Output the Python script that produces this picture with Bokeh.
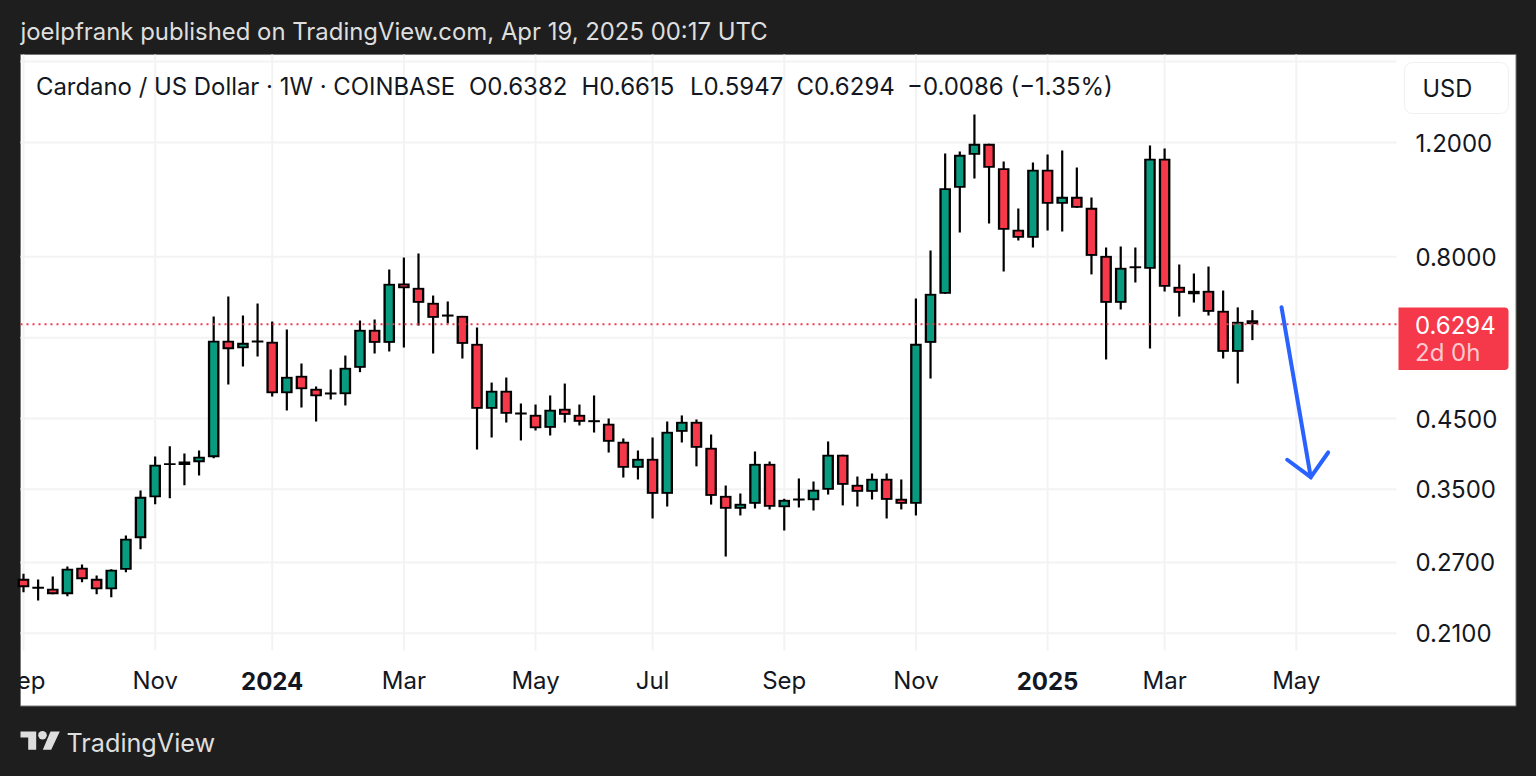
import math
import numpy as np
from bokeh.embed import file_html
from bokeh.resources import INLINE
from bokeh.plotting import figure
from bokeh.models import (BoxAnnotation, FixedTicker, Label, LinearAxis, LogAxis, PolyAnnotation, Range1d)

OPEN = [.2547,.2476,.2459,.2412,.2649,.2547,.2455,.2631,.2943,.3403,.3815,.3815,.3855,.3924,.5933,.5779,.5897,.5912,.4925,.5239,.5003,.4903,.4908,.5390,.6169,.5890,.7272,.7161,.6790,.6466,.6482,.5869,.4660,.4968,.4566,.4561,.4355,.4660,.4561,.4443,.4419,.4145,.3779,.3901,.3445,.4294,.4449,.4057,.3420,.3267,.3325,.3832,.3285,.3364,.3368,.3495,.3958,.3557,.3470,.3634,.3385,.3325,.5890,.7010,1.0216,1.1486,1.1944,1.0953,.8801,.8553,1.0891,.9655,.9894,.9515,.8022,.6790,.7678,.7662,1.1325,.7187,.7085,.7085,.6600,.5705,.6382]
HIGH = [.2593,.2541,.2568,.2661,.2680,.2578,.2635,.2970,.3486,.3933,.4078,.3975,.4018,.6466,.6943,.6490,.6773,.6353,.6176,.5473,.5044,.5358,.5630,.6376,.6399,.7643,.7975,.8092,.6968,.6822,.6482,.6220,.5115,.5207,.4748,.4731,.4886,.5097,.4731,.4886,.4502,.4194,.4018,.4208,.4454,.4551,.4486,.4253,.3548,.3449,.4004,.3864,.3385,.3638,.3599,.4149,.3958,.3663,.3703,.3703,.3625,.6895,.8176,1.1542,1.1623,1.3254,1.1944,1.1217,.9493,1.1177,1.1498,1.1664,1.0980,.9870,.8263,.8292,.8263,1.1871,1.1747,.7780,.7535,.7724,.7093,.6680,.6615]
LOW = [.2429,.2358,.2412,.2394,.2517,.2412,.2386,.2608,.2830,.3320,.3391,.3552,.3677,.3910,.5079,.5414,.5611,.4867,.4632,.4681,.4454,.4816,.4715,.5307,.5671,.5712,.5793,.6263,.5671,.6310,.5571,.4032,.4208,.4438,.4164,.4314,.4238,.4438,.4392,.4283,.3989,.3650,.3625,.3156,.3293,.4134,.3798,.3316,.2757,.3190,.3270,.3259,.3024,.3282,.3247,.3436,.3306,.3293,.3376,.3156,.3259,.3190,.5189,.7010,.8717,1.0559,.9000,.7589,.8472,.8263,.8779,.8748,.9515,.7511,.5552,.6631,.7298,.5773,.7068,.6466,.6797,.6490,.5571,.5097,.5947]
CLOSE = [.2473,.2459,.2412,.2640,.2544,.2455,.2631,.2937,.3408,.3819,.3841,.3864,.3929,.5933,.5759,.5890,.5939,.4925,.5220,.4996,.4872,.4938,.5390,.6169,.5890,.7264,.7151,.6790,.6437,.6513,.5869,.4660,.4968,.4578,.4599,.4349,.4644,.4561,.4449,.4475,.4145,.3779,.3901,.3445,.4294,.4449,.4057,.3420,.3267,.3325,.3832,.3290,.3372,.3388,.3495,.3958,.3557,.3470,.3634,.3372,.3325,.5869,.7010,1.0202,1.1486,1.1944,1.0968,.8801,.8553,1.0891,.9655,.9894,.9515,.8022,.6790,.7689,.7731,1.1325,.7187,.7035,.7000,.6576,.5705,.6347,.6294]

PRICE_TICKS = [1.6, 1.2, 0.8, 0.6, 0.45, 0.35, 0.27, 0.21]
PRICE_LABELS = ["", "1.2000", "0.8000", "", "0.4500", "0.3500", "0.2700", "0.2100"]
TIME_TICKS = [0, 9, 17, 26, 35, 43, 52, 61, 70, 78, 87]
TIME_LABELS = ["Sep", "Nov", "", "Mar", "May", "Jul", "Sep", "Nov", "", "Mar", "May"]
YEAR_TICKS = [17, 70]
YEAR_LABELS = ["2024", "2025"]
LAST_PRICE = 0.6294
ARROW_X = [85.99, 87.99]
ARROW_Y = [0.6685, 0.3655]
BARB_X = [86.38, 87.99, 89.18]
BARB_Y = [0.3888, 0.3655, 0.3990]

DARK = "#1e1e1e"; INK = "#131722"; LIGHT = "#dedede"
GREEN = "#089b7f"; RED = "#f5384a"; GRID = "#f3f3f3"; BLUE = "#2962ff"
FONT = "Inter"
W, H = 1536, 776
L_PX, R_PX, T_PX, B_PX = 20, 1396, 54, 650
PX_PER_BAR = 14.63
PX_PER_LN = 281.5

# The frame fills the whole canvas, so that everything (panel, scale, footer) may be drawn in it.
p = figure(width=W, height=H, output_backend="svg", toolbar_location=None,
           y_axis_type="log", x_axis_location=None, y_axis_location=None,
           x_range=Range1d(-1.572, 103.42), y_range=Range1d(0.12620, 1.9874),
           min_border=0, border_fill_color=DARK, background_fill_color=DARK, outline_line_color=None)
p.grid.visible = False
p.extra_x_ranges["px"] = Range1d(0, W)

def price_at(y_px):
    return 1.9874 * math.exp(-y_px / PX_PER_LN)

def box(x0, x1, y0, y1, fill, line=None, radius=0, level="annotation", alpha=1):
    p.add_layout(BoxAnnotation(left=x0, right=x1, top=y0, bottom=y1,
                               left_units="canvas", right_units="canvas", top_units="canvas", bottom_units="canvas",
                               fill_color=fill, fill_alpha=alpha, line_color=line, line_width=1,
                               line_alpha=1 if line else 0, border_radius=radius, level=level))

box(20, 1515.5, 54, 705.5, "white", line="#777777", level="underlay")

yaxis = LogAxis(ticker=FixedTicker(ticks=PRICE_TICKS), major_label_overrides=dict(zip(PRICE_TICKS, PRICE_LABELS)),
                fixed_location=(R_PX - 23) / PX_PER_BAR, major_label_standoff=19)
xaxis = LinearAxis(ticker=FixedTicker(ticks=TIME_TICKS), major_label_overrides=dict(zip(TIME_TICKS, TIME_LABELS)),
                   fixed_location=price_at(666), major_label_standoff=0)
for ax in (xaxis, yaxis):
    ax.axis_line_color = None
    ax.major_tick_line_color = None
    ax.minor_tick_line_color = None
    ax.major_tick_in = 0
    ax.major_tick_out = 0
    ax.major_label_text_color = INK
    ax.major_label_text_font = FONT
    ax.major_label_text_font_size = "24px"
p.add_layout(xaxis, "below")
p.add_layout(yaxis, "right")

# grid lines
n = len(PRICE_TICKS)
p.segment([L_PX] * n, PRICE_TICKS, [R_PX] * n, PRICE_TICKS, x_range_name="px", line_color=GRID, line_width=2)
m = len(TIME_TICKS)
p.segment(TIME_TICKS, [price_at(T_PX)] * m, TIME_TICKS, [price_at(B_PX)] * m, line_color=GRID, line_width=2)

o, h, l, c = map(np.array, (OPEN, HIGH, LOW, CLOSE))
idx = np.arange(len(o))
top = np.maximum(o, c); bot = np.minimum(o, c)
stroke = math.exp(1.8 / PX_PER_LN)
tall = np.log(top / bot) * PX_PER_LN > 3.8
colors = np.where(c >= o, GREEN, RED)

p.segment(idx, h, idx, l, line_color="black", line_width=2.2)
p.vbar(x=idx, top=top, bottom=bot, width=11.6 / PX_PER_BAR, fill_color="black", line_color=None)
p.vbar(x=idx[tall], top=top[tall] / stroke, bottom=bot[tall] * stroke, width=7.0 / PX_PER_BAR,
       fill_color=colors[tall].tolist(), line_color=None)

p.line([L_PX, R_PX], [LAST_PRICE, LAST_PRICE], x_range_name="px", line_color=RED, line_width=2, line_dash=[2, 4])
p.line(ARROW_X, ARROW_Y, line_color=BLUE, line_width=4, line_cap="round")
p.line(BARB_X, BARB_Y, line_color=BLUE, line_width=4, line_cap="round", line_join="miter")

def txt(s, x, y, size=24, color=INK, style="normal", align="left", font=FONT, units="canvas"):
    p.add_layout(Label(x=x, y=y, x_units=units, y_units="canvas", text=s,
                       text_font=font, text_font_size=f"{size}px", text_color=color,
                       text_font_style=style, text_align=align, text_baseline="middle"))

# covers the part of the first tick label that falls outside the panel
box(0, 19.5, 660, 700, DARK, level="overlay")

for t, s in zip(YEAR_TICKS, YEAR_LABELS):
    txt(s, t, 680, style="bold", align="center", units="data")

txt("joelpfrank published on TradingView.com, Apr 19, 2025 00:17 UTC", 20, 31, size=23.9, color=LIGHT)
txt("Cardano / US Dollar · 1W · COINBASE", 35.5, 85.5, size=23.9)
txt("O0.6382", 468.5, 85.5)
txt("H0.6615", 581, 85.5)
txt("L0.5947", 689.5, 85.5)
txt("C0.6294", 796, 85.5)
txt("−0.0086 (−1.35%)", 906.5, 85.5)
box(1404, 1508, 62, 113, "white", line="#f0f0f0", radius=8)
txt("USD", 1422, 88, size=23.6)
box(1398, 1508, 307, 369.5, RED, radius=dict(top_left=0, top_right=4, bottom_right=4, bottom_left=0))
txt("0.6294", 1414.5, 324, color="white")
txt("2d 0h", 1414.5, 352, color="#fdc9ce")
txt("TradingView", 66, 742, size=25.2, color=LIGHT)

# logo
def poly(xs, ys):
    p.add_layout(PolyAnnotation(xs=list(xs), ys=list(ys), xs_units="canvas", ys_units="canvas",
                                fill_color=LIGHT, fill_alpha=1, line_alpha=0))
poly((20, 35.7, 35.7, 27.7, 27.7, 20), (731, 731, 749.3, 749.3, 737, 737))
poly((50, 59.3, 50.7, 42.3), (731, 731, 749.3, 749.3))
poly([42 + 4.3 * math.cos(a * math.pi / 8) for a in range(16)],
     [734.7 + 4.3 * math.sin(a * math.pi / 8) for a in range(16)])

html = file_html(p, INLINE).replace("<head>", f"<head><style>html,body{{background:{DARK};}}</style>", 1)
open("out.html", "w").write(html)
